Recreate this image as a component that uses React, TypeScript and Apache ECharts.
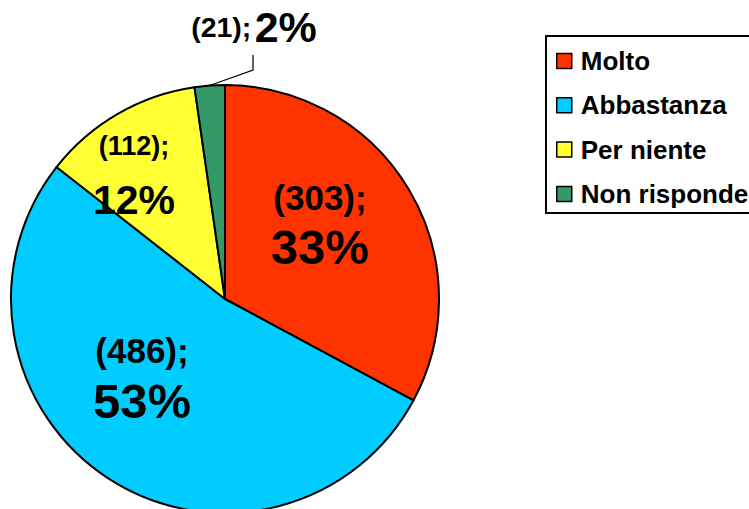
import React, { useEffect, useRef } from "react";
import * as echarts from "echarts";

const categories = ["Molto", "Abbastanza", "Per niente", "Non risponde"];
const counts = [303, 486, 112, 21];
const colors = ["#FF3300", "#00CCFF", "#FFFF33", "#339966"];

const FONT = "'Liberation Sans', Arial, Helvetica, sans-serif";

// label anchor points (centre of each label block)
const labelAnchors = [
  [320, 224],
  [142, 377],
  [134, 171],
  [254, 27],
];

function richFor(small: number, big: number, lhSmall: number, lhBig: number) {
  return {
    a: { fontSize: small, fontWeight: "bold", fontFamily: FONT, color: "#000", lineHeight: lhSmall },
    b: { fontSize: big, fontWeight: "bold", fontFamily: FONT, color: "#000", lineHeight: lhBig },
  };
}

export default function App() {
  const ref = useRef<HTMLDivElement>(null);
  useEffect(() => {
    if (!ref.current) return;
    const chart = echarts.init(ref.current, null, { renderer: "svg" });
    const data = categories.map((name, i) => {
      const item: any = { name, value: counts[i], itemStyle: { color: colors[i] } };
      if (i === 0) item.label = { rich: richFor(35, 49, 46, 54) };
      if (i === 1) item.label = { rich: richFor(35, 49, 48, 54) };
      if (i === 2) item.label = { rich: richFor(27, 41, 57, 50) };
      if (i === 3) {
        item.label = {
          position: "outside",
          formatter: "{a|({c});} {b|{d}%}",
          rich: richFor(28.5, 43, 44, 44),
        };
        item.labelLine = { show: true, lineStyle: { color: "#000", width: 1.2 } };
      }
      return item;
    });
    chart.setOption({
      animation: false,
      backgroundColor: "#fff",
      graphic: [
        {
          type: "rect",
          shape: { x: 546, y: 36, width: 260, height: 177 },
          style: { fill: "none", stroke: "#000", lineWidth: 2 },
          silent: true,
        },
      ],
      legend: {
        orient: "vertical",
        left: 546,
        top: 36,
        icon: "rect",
        itemWidth: 15,
        itemHeight: 15,
        itemGap: 18.3,
        padding: [12, 0, 4, 10],
        selectedMode: false,
        itemStyle: { borderColor: "#000", borderWidth: 1.5 },
        textStyle: {
          fontSize: 26,
          fontWeight: "bold",
          fontFamily: FONT,
          color: "#000",
          lineHeight: 26,
          padding: [0, 0, 0, 4],
        },
        data: categories,
      },
      series: [
        {
          type: "pie",
          center: [225, 299],
          radius: 214,
          startAngle: 90,
          clockwise: true,
          percentPrecision: 0,
          silent: true,
          avoidLabelOverlap: false,
          itemStyle: { borderColor: "#000", borderWidth: 2 },
          label: {
            show: true,
            position: "inside",
            color: "#000",
            formatter: "{a|({c});}\n{b|{d}%}",
          },
          labelLine: { show: false },
          labelLayout: (p: any) => {
            const [x, y] = labelAnchors[p.dataIndex];
            const out: any = { x, y, align: "center", verticalAlign: "middle" };
            if (p.dataIndex === 3) {
              const start = p.labelLinePoints ? p.labelLinePoints[0] : [208, 86];
              out.labelLinePoints = [start, [253, 70], [253, 55]];
            }
            return out;
          },
          data,
        },
      ],
    });
    return () => chart.dispose();
  }, []);
  return (
    <div
      ref={ref}
      style={{ position: "fixed", left: 0, top: 0, width: 749, height: 509, background: "#fff" }}
    />
  );
}
